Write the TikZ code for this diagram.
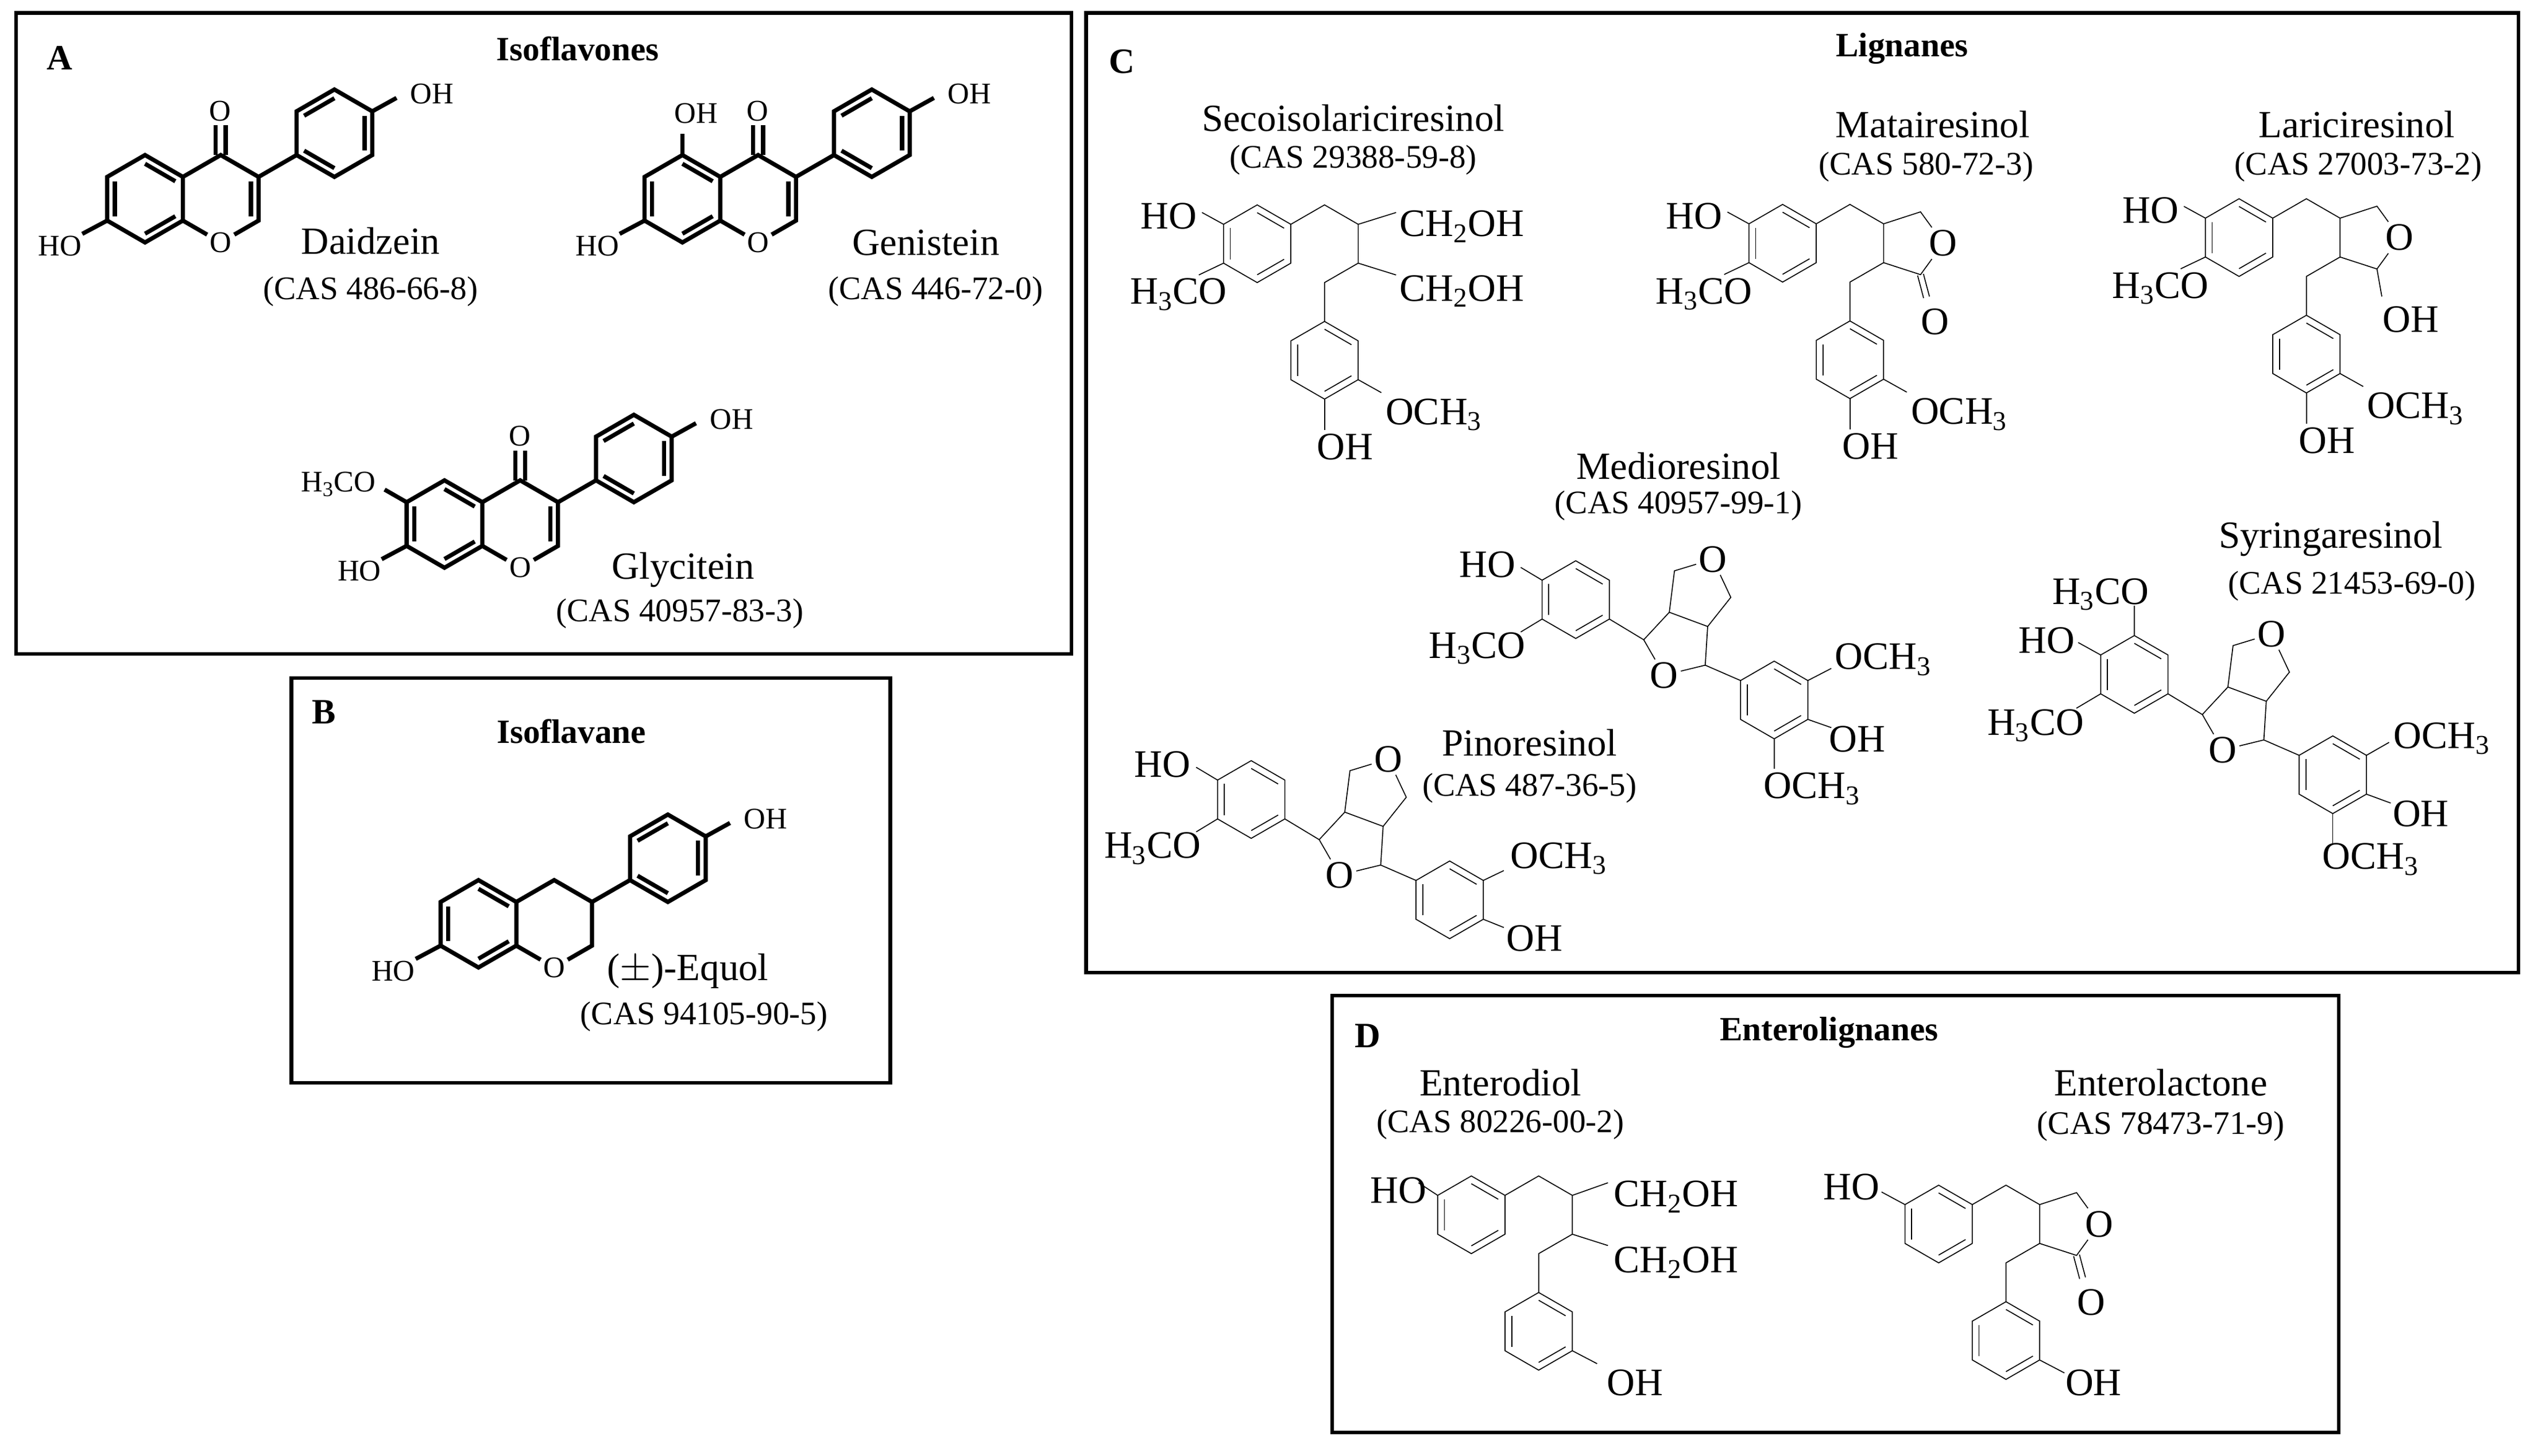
\documentclass[tikz,border=0pt]{standalone}
\usepackage{fontspec}
\setmainfont{Liberation Serif}
\usetikzlibrary{calc}
\tikzset{
 iso/.style={line width=2.6pt},
 lig/.style={line width=0.6pt},
 box/.style={draw,line width=2.2pt},
 alab/.style={font=\fontsize{18.5}{20}\selectfont,inner sep=0pt,anchor=base,yshift=-6pt},
 llab/.style={font=\fontsize{24}{26}\selectfont,inner sep=0pt,anchor=base,yshift=-8pt},
 Oa/.style={font=\fontsize{18.5}{20}\selectfont,inner sep=1.5pt},
 Ol/.style={font=\fontsize{24}{26}\selectfont,inner sep=1.5pt},
 nm/.style={font=\fontsize{23.7}{26}\selectfont,inner sep=0pt},
 cas/.style={font=\fontsize{20.3}{22}\selectfont,inner sep=0pt},
 ttl/.style={font=\fontsize{21}{23}\selectfont\bfseries,inner sep=0pt},
 let/.style={font=\fontsize{22}{24}\selectfont\bfseries,inner sep=0pt}
}
\newcommand\Ring[5]{%
 \foreach \i in {0,...,5}{\coordinate (#1-\i) at ($(#2)+(-90+60*\i:#3)$);}
 \draw[#5] (#1-0)--(#1-1)--(#1-2)--(#1-3)--(#1-4)--(#1-5)--cycle;
 \foreach \e in {#4}{\pgfmathtruncatemacro\ff{mod(\e+1,6)}
   \draw[#5] ($(#2)!0.8!(#1-\e)$) -- ($(#2)!0.8!(#1-\ff)$);}
}
\newcommand\Iso[3]{%
 \Ring{#1A}{#2}{27}{0,2,4}{iso}
 \coordinate (#1Cc) at ($(#2)+(46.77,0)$);
 \foreach \i in {0,1,2,3}{\coordinate (#1C-\i) at ($(#1Cc)+(-90+60*\i:27)$);}
 \node[Oa] (#1O) at (#1C-3) {O};
 \draw[iso] (#1A-1)--(#1C-0)--(#1C-1)--(#1C-2)--(#1O)--(#1A-2);
 \coordinate (#1Bc) at ($(#2)+(117,-40.5)$);
 \Ring{#1B}{#1Bc}{27}{1,3,5}{iso}
 \draw[iso] (#1C-1)--(#1B-4);
 \draw[iso] (#1B-1)--++(15,-8.3);
 \node[alab] at ($(#2)+(177.4,-64.8)$) {OH};
 \draw[iso] (#1A-4)--++(-15.4,8.2);
 \node[alab] at ($(#2)+(-52.6,29.2)$) {HO};
 \ifnum#3=1
  \draw[iso] ($(#1C-0)+(-3.1,0)$)--++(0,-18.3);
  \draw[iso] ($(#1C-0)+(3.1,0)$)--++(0,-18.3);
  \node[alab] at ($(#2)+(46.4,-54.2)$) {O};
  \draw[iso] ($(#1Cc)!0.8!(#1C-1)$)--($(#1Cc)!0.8!(#1C-2)$);
 \fi
}
\newcommand\DBB[2]{%
 \Ring{#1a}{#2}{24}{0,2,4}{lig}
 \coordinate (#1-P1) at ($(#2)+(41.6,-24)$);
 \coordinate (#1-Ca) at ($(#2)+(62.4,-12)$);
 \coordinate (#1-Cb) at ($(#2)+(62.4,12)$);
 \coordinate (#1-P2) at ($(#2)+(41.6,24)$);
 \coordinate (#1-R2) at ($(#2)+(41.6,72)$);
 \Ring{#1b}{#1-R2}{24}{0,2,4}{lig}
 \draw[lig] (#1a-1)--(#1-P1)--(#1-Ca)--(#1-Cb)--(#1-P2)--(#1b-0);
}
\newcommand\Five[1]{%
 \coordinate (#1-F1) at ($(#1-Ca)+(22.8,-7.4)$);
 \node[Ol] (#1-FO) at ($(#1-Ca)+(36.9,12)$) {O};
 \coordinate (#1-F3) at ($(#1-Ca)+(22.8,31.4)$);
 \draw[lig] (#1-Ca)--(#1-F1)--(#1-FO)--(#1-F3)--(#1-Cb);
}
\newcommand\Lac[1]{%
 \draw[lig] ($(#1-F3)+(-1.8,0.5)$)--++(3.7,14);
 \draw[lig] ($(#1-F3)+(1.8,-0.5)$)--++(3.7,14);
 \node[Ol] at ($(#1-F3)+(9,29)$) {O};
}
\newcommand\BF[2]{%
 \Ring{#1a}{#2}{24}{0,2,4}{lig}
 \coordinate (#1-R2) at ($(#2)+(122.6,62)$);
 \Ring{#1b}{#1-R2}{24}{0,2,4}{lig}
 \coordinate (#1-C1) at ($(#2)+(42,24.8)$);
 \coordinate (#1-C2) at ($(#2)+(57.8,7.8)$);
 \node[Ol] (#1-Ob) at ($(#2)+(54.6,46.7)$) {O};
 \coordinate (#1-C3) at ($(#2)+(80,40.5)$);
 \coordinate (#1-C4) at ($(#2)+(81.5,16.6)$);
 \coordinate (#1-H1) at ($(#2)+(61,-17.8)$);
 \node[Ol] (#1-Ot) at ($(#2)+(84.7,-25)$) {O};
 \coordinate (#1-H2) at ($(#2)+(95.8,-1.4)$);
 \draw[lig] (#1a-2)--(#1-C1)--(#1-C2);
 \draw[lig] (#1-C1)--(#1-Ob)--(#1-C3)--(#1-C4)--(#1-C2)--(#1-H1)--(#1-Ot)--(#1-H2)--(#1-C4);
 \draw[lig] (#1-C3)--(#1b-5);
}
\begin{document}
\begin{tikzpicture}[x=1pt,y=-1pt]
\useasboundingbox (0,0) rectangle (1568,899.6);
% boxes
\draw[box] (10,8) rectangle (662,404);
\draw[box] (180,419) rectangle (550,669);
\draw[box] (671,8) rectangle (1556,601);
\draw[box] (823,615) rectangle (1445,885);
\node[let] (lA) at (37,36) {A};
\node[let] (lB) at (200,440) {B};
\node[let] (lC) at (693,38) {C};
\node[let] (lD) at (845,640) {D};
\node[ttl] (tA) at (357,30) {Isoflavones};
\node[ttl] (tB) at (353,452) {Isoflavane};
\node[ttl] (tC) at (1175,30) {Lignanes};
\node[ttl] (tD) at (1130,638) {Enterolignanes};
% ---- isoflavones
\coordinate (Dz) at (89.6,122.8);
\coordinate (Gn) at (421.6,122.8);
\coordinate (Gc) at (274.6,323.8);
\coordinate (Eq) at (295.6,570.8);
\Iso{Dz}{Dz}{1}
\Iso{Gn}{Gn}{1}
\Iso{Gc}{Gc}{1}
\Iso{Eq}{Eq}{0}
\draw[iso] (GnA-0)--++(0,-13);
\node[alab] at ($(Gn)+(8.4,-52.8)$) {OH};
\draw[iso] (GcA-5)--++(-13.6,-7.8);
\node[alab] at ($(Gc)+(-65.6,-25.8)$) {H\textsubscript{3}CO};
\node[nm] (nDz) at (229,149) {Daidzein};
\node[cas] (cDz) at (229,180) {(CAS 486-66-8)};
\node[nm] (nGn) at (572,150) {Genistein};
\node[cas] (cGn) at (578,180) {(CAS 446-72-0)};
\node[nm] (nGc) at (422,352) {Glycitein};
\node[cas] (cGc) at (420,379) {(CAS 40957-83-3)};
\node[nm] (nEq) at (425,600) {($\pm$)-Equol};
\node[cas] (cEq) at (435,628) {(CAS 94105-90-5)};
% ---- Secoisolariciresinol
\coordinate (S) at (776.7,150.6);
\DBB{S}{S}
\draw[lig] (Sa-5)--++(-13.3,-7.3); \node[llab] at ($(S)+(-54.7,-17.1)$) {HO};
\draw[lig] (Sa-4)--++(-15.3,7.3); \node[llab] at ($(S)+(-48.7,29.4)$) {H\textsubscript{3}CO};
\draw[lig] (S-Ca)--++(23.4,-7.3); \node[llab] at ($(S)+(126.3,-12.6)$) {CH\textsubscript{2}OH};
\draw[lig] (S-Cb)--++(23.4,7.3); \node[llab] at ($(S)+(126.3,27.4)$) {CH\textsubscript{2}OH};
\draw[lig] (Sb-2)--++(14.3,8); \node[llab] at ($(S)+(109.1,103.7)$) {OCH\textsubscript{3}};
\draw[lig] (Sb-3)--++(0,19); \node[llab] at ($(S)+(54.3,125.4)$) {OH};
\node[nm] (nS) at (836,73) {Secoisolariciresinol};
\node[cas] (cS) at (836,99) {(CAS 29388-59-8)};
% ---- Matairesinol
\coordinate (M) at (1101.3,150.3);
\DBB{M}{M}\Five{M}\Lac{M}
\draw[lig] (Ma-5)--++(-13.3,-7.3); \node[llab] at ($(M)+(-54.7,-17.1)$) {HO};
\draw[lig] (Ma-4)--++(-15.3,7.3); \node[llab] at ($(M)+(-48.7,29.4)$) {H\textsubscript{3}CO};
\draw[lig] (Mb-2)--++(14.3,8); \node[llab] at ($(M)+(109.1,103.7)$) {OCH\textsubscript{3}};
\draw[lig] (Mb-3)--++(0,19); \node[llab] at ($(M)+(54.3,125.4)$) {OH};
\node[nm] (nM) at (1194,77) {Matairesinol};
\node[cas] (cM) at (1190,103) {(CAS 580-72-3)};
% ---- Lariciresinol
\coordinate (L) at (1383.3,146.8);
\DBB{L}{L}\Five{L}
\draw[lig] (L-F3)--++(3,17); \node[llab] at ($(L-F3)+(21,31)$) {OH};
\draw[lig] (La-5)--++(-13.3,-7.3); \node[llab] at ($(L)+(-54.7,-17.1)$) {HO};
\draw[lig] (La-4)--++(-15.3,7.3); \node[llab] at ($(L)+(-48.7,29.4)$) {H\textsubscript{3}CO};
\draw[lig] (Lb-2)--++(14.3,8); \node[llab] at ($(L)+(109.1,103.7)$) {OCH\textsubscript{3}};
\draw[lig] (Lb-3)--++(0,19); \node[llab] at ($(L)+(54.3,125.4)$) {OH};
\node[nm] (nL) at (1456,77) {Lariciresinol};
\node[cas] (cL) at (1457,103) {(CAS 27003-73-2)};
% ---- Pinoresinol
\coordinate (P) at (773,494);
\BF{P}{P}
\draw[lig] (Pa-5)--++(-13.2,-7.9); \node[llab] at ($(P)+(-54.7,-21.9)$) {HO};
\draw[lig] (Pa-4)--++(-13.2,8); \node[llab] at ($(P)+(-61,28.2)$) {H\textsubscript{3}CO};
\draw[lig] (Pb-1)--++(12.7,-6.1); \node[llab] at ($(P)+(190,34.4)$) {OCH\textsubscript{3}};
\draw[lig] (Pb-2)--++(12.7,5.1); \node[llab] at ($(P)+(175,85.5)$) {OH};
\node[nm] (nP) at (945,459) {Pinoresinol};
\node[cas] (cP) at (945,487) {(CAS 487-36-5)};
% ---- Medioresinol
\coordinate (Md) at (973.5,370.5);
\BF{Md}{Md}
\draw[lig] (Mda-5)--++(-13.2,-7.9); \node[llab] at ($(Md)+(-54.7,-21.9)$) {HO};
\draw[lig] (Mda-4)--++(-13.2,8); \node[llab] at ($(Md)+(-61,28.2)$) {H\textsubscript{3}CO};
\draw[lig] (Mdb-1)--++(14.5,-7.5); \node[llab] at ($(Md)+(190,35)$) {OCH\textsubscript{3}};
\draw[lig] (Mdb-2)--++(14.5,5.1); \node[llab] at ($(Md)+(174,86.2)$) {OH};
\draw[lig] (Mdb-3)--++(0,18.4); \node[llab] at ($(Md)+(146,114.9)$) {OCH\textsubscript{3}};
\node[nm] (nMd) at (1037,288) {Medioresinol};
\node[cas] (cMd) at (1037,312.5) {(CAS 40957-99-1)};
% ---- Syringaresinol
\coordinate (Sy) at (1318.6,416.7);
\BF{Sy}{Sy}
\draw[lig] (Sya-0)--++(0,-18.3); \node[llab] at ($(Sy)+(-20.9,-51.5)$) {H\textsubscript{3}CO};
\draw[lig] (Sya-5)--++(-13.9,-7.7); \node[llab] at ($(Sy)+(-54.1,-21.3)$) {HO};
\draw[lig] (Sya-4)--++(-15,8.9); \node[llab] at ($(Sy)+(-61,29.6)$) {H\textsubscript{3}CO};
\draw[lig] (Syb-1)--++(14,-8); \node[llab] at ($(Sy)+(190,37.6)$) {OCH\textsubscript{3}};
\draw[lig] (Syb-2)--++(15,5.5); \node[llab] at ($(Sy)+(177,86.1)$) {OH};
\draw[lig] (Syb-3)--++(0,18.4); \node[llab] at ($(Sy)+(146.1,112.3)$) {OCH\textsubscript{3}};
\node[nm] (nSy) at (1440,333) {Syringaresinol};
\node[cas] (cSy) at (1453,362) {(CAS 21453-69-0)};
% ---- Enterodiol
\coordinate (E1) at (909,750.6);
\DBB{E1}{E1}
\draw[lig] (E1a-5)--++(-11.9,-7.8); \node[llab] at ($(E1)+(-44.9,-15.3)$) {HO};
\draw[lig] (E1-Ca)--++(22,-7.8); \node[llab] at ($(E1)+(126.5,-13.1)$) {CH\textsubscript{2}OH};
\draw[lig] (E1-Cb)--++(22,7); \node[llab] at ($(E1)+(126.5,27.6)$) {CH\textsubscript{2}OH};
\draw[lig] (E1b-2)--++(15.3,8); \node[llab] at ($(E1)+(101,103.7)$) {OH};
\node[nm] (nE1) at (927,669) {Enterodiol};
\node[cas] (cE1) at (927,694.7) {(CAS 80226-00-2)};
% ---- Enterolactone
\coordinate (E2) at (1197.7,756.3);
\DBB{E2}{E2}\Five{E2}\Lac{E2}
\draw[lig] (E2a-5)--++(-14.5,-7.8); \node[llab] at ($(E2)+(-53.7,-23.2)$) {HO};
\draw[lig] (E2b-2)--++(15.3,8); \node[llab] at ($(E2)+(95.7,98)$) {OH};
\node[nm] (nE2) at (1335,669) {Enterolactone};
\node[cas] (cE2) at (1335,696) {(CAS 78473-71-9)};
\end{tikzpicture}
\end{document}
